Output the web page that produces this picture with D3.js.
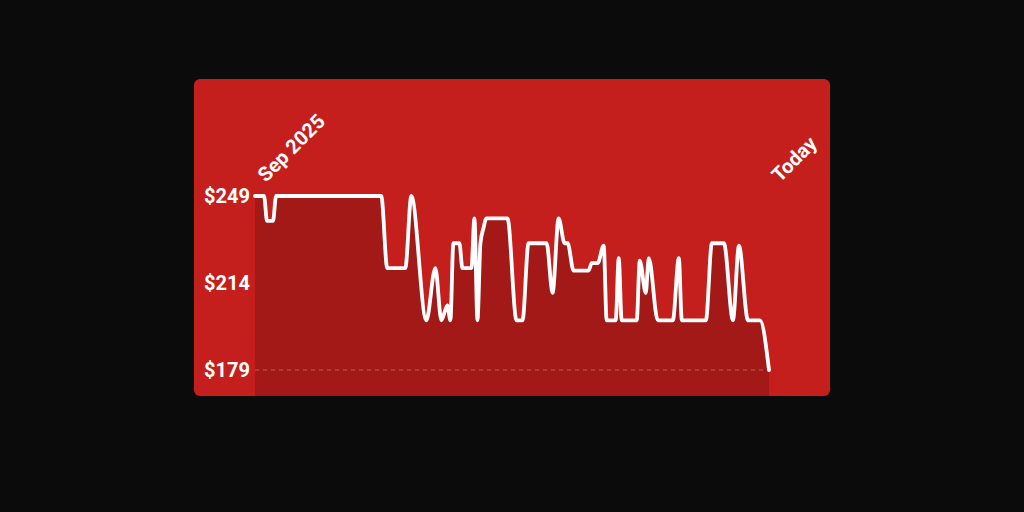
<!DOCTYPE html>
<html lang="en">
<meta charset="utf-8" />
<style>
    body {
        margin: 0;
        background: #0b0b0b;
    }

    text {
        font-family: Roboto, "Noto Sans", sans-serif;
        font-weight: 700;
        fill: #ffffff;
    }
</style>
<body>
<svg width="1024" height="512"></svg>
<script src="https://d3js.org/d3.v7.min.js"></script>
<script>
    // price history, day offsets from the first day shown
    var days = [0, 3, 4, 6, 7, 42, 44, 50, 52, 57, 60, 62, 64, 65, 66, 68, 69, 72, 73, 74, 75, 76, 77,
        84, 87, 89, 91, 97, 99, 101, 103, 104, 106, 111, 112, 114, 116, 117, 120, 121, 122, 127, 128,
        130, 131, 134, 139, 141, 142, 150, 152, 156, 159, 161, 164, 168, 171]
    var prices = [249, 249, 239, 239, 249, 249, 220, 220, 249, 199, 220, 199, 205, 199, 230, 230, 220,
        220, 240, 199, 230, 236, 240, 240, 199, 199, 230, 230, 210, 240, 230, 230, 219, 219, 222, 222,
        229, 199, 199, 224, 199, 199, 223, 210, 224, 199, 199, 224, 199, 199, 230, 230, 199, 229, 199,
        199, 179]
    var yTicks = [179, 214, 249]
    var xLabels = [{ day: 0, text: "Sep 2025" }, { day: 171, text: "Today" }]

    var data = days.map((d, i) => ({ day: d, price: prices[i] }))

    var svg = d3.select("svg")

    var card = { x: 194, y: 79, w: 636, h: 317 }

    svg.append("rect")
        .attr("x", card.x)
        .attr("y", card.y)
        .attr("width", card.w)
        .attr("height", card.h)
        .attr("rx", 6)
        .attr("fill", "#c51f1d")

    var x = d3.scaleLinear()
        .domain([0, 171])
        .range([255, 769])

    var y = d3.scaleLinear()
        .domain([179, 249])
        .range([370, 196])

    var area = d3.area()
        .x(d => x(d.day))
        .y0(card.y + card.h)
        .y1(d => y(d.price))
        .curve(d3.curveMonotoneX)

    var line = d3.line()
        .x(d => x(d.day))
        .y(d => y(d.price))
        .curve(d3.curveMonotoneX)

    svg.append("path")
        .datum(data)
        .attr("d", area)
        .attr("fill", "#a21918")

    // dashed line at the lowest price
    svg.append("line")
        .attr("x1", x(0))
        .attr("x2", x(171))
        .attr("y1", y(d3.min(prices)))
        .attr("y2", y(d3.min(prices)))
        .attr("stroke", "rgba(255,255,255,0.3)")
        .attr("stroke-width", 1)
        .attr("stroke-dasharray", "4,4")

    svg.append("path")
        .datum(data)
        .attr("d", line)
        .attr("fill", "none")
        .attr("stroke", "#ffffff")
        .attr("stroke-width", 3.8)
        .attr("stroke-linejoin", "round")
        .attr("stroke-linecap", "round")

    var yAxis = svg.append("g")
        .attr("transform", "translate(255,0)")
        .call(d3.axisLeft(y).tickValues(yTicks).tickFormat(d => "$" + d).tickSize(0).tickPadding(5))

    yAxis.select(".domain").remove()
    yAxis.selectAll("text")
        .attr("fill", "#ffffff")
        .style("font-size", "20px")
        .style("font-family", "Roboto, sans-serif")

    svg.selectAll("text.xlabel")
        .data(xLabels)
        .enter()
        .append("text")
        .attr("class", "xlabel")
        .attr("transform", d => "translate(" + (x(d.day) + 11) + ",183) rotate(-45)")
        .style("font-size", "20px")
        .text(d => d.text)
</script>
</body>
</html>
